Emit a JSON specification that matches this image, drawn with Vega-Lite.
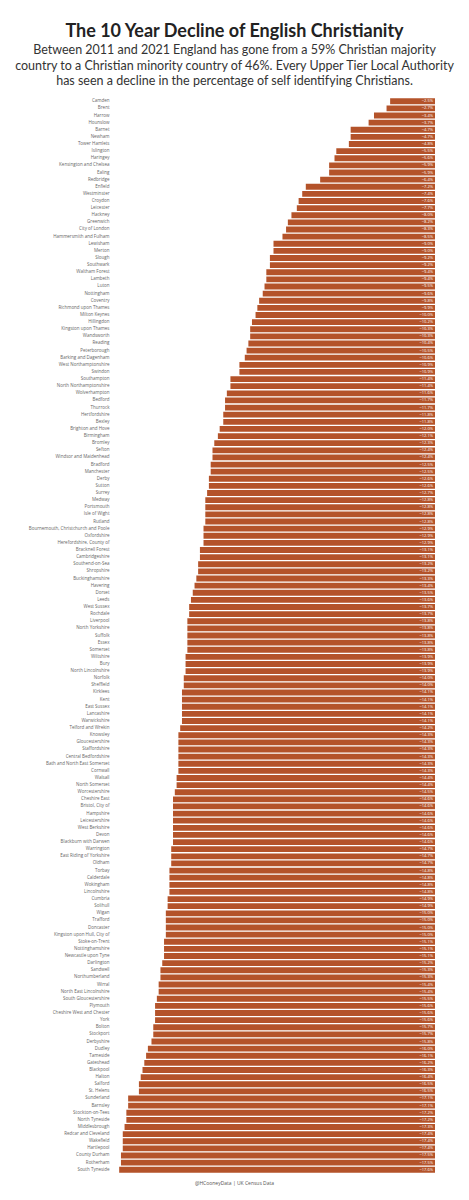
{
  "$schema": "https://vega.github.io/schema/vega-lite/v6.json",
  "autosize": {"type": "none"},
  "padding": {"left": 112, "top": 98, "right": 34, "bottom": 27},
  "width": 323,
  "height": 1075,
  "background": "white",
  "config": {"view": {"stroke": null}, "font": "Open Sans"},
  "title": {
    "text": "The 10 Year Decline of English Christianity",
    "subtitle": [
      "Between 2011 and 2021 England has gone from a 59% Christian majority",
      "country to a Christian minority country of 46%. Every Upper Tier Local Authority",
      "has seen a decline in the percentage of self identifying Christians."
    ],
    "anchor": "middle",
    "frame": "group",
    "dx": -39,
    "font": "Lato",
    "fontSize": 18,
    "fontWeight": "bold",
    "color": "#222222",
    "subtitleFont": "Lato",
    "subtitleFontSize": 12.5,
    "subtitleColor": "#333333",
    "subtitleLineHeight": 15.5,
    "subtitlePadding": 3,
    "offset": 10
  },
  "data": {
    "values": [
      {"area": "Camden", "change": -0.025},
      {"area": "Brent", "change": -0.027},
      {"area": "Harrow", "change": -0.034},
      {"area": "Hounslow", "change": -0.037},
      {"area": "Barnet", "change": -0.047},
      {"area": "Newham", "change": -0.047},
      {"area": "Tower Hamlets", "change": -0.048},
      {"area": "Islington", "change": -0.055},
      {"area": "Haringey", "change": -0.056},
      {"area": "Kensington and Chelsea", "change": -0.059},
      {"area": "Ealing", "change": -0.059},
      {"area": "Redbridge", "change": -0.064},
      {"area": "Enfield", "change": -0.072},
      {"area": "Westminster", "change": -0.074},
      {"area": "Croydon", "change": -0.076},
      {"area": "Leicester", "change": -0.077},
      {"area": "Hackney", "change": -0.080},
      {"area": "Greenwich", "change": -0.082},
      {"area": "City of London", "change": -0.083},
      {"area": "Hammersmith and Fulham", "change": -0.085},
      {"area": "Lewisham", "change": -0.090},
      {"area": "Merton", "change": -0.090},
      {"area": "Slough", "change": -0.092},
      {"area": "Southwark", "change": -0.092},
      {"area": "Waltham Forest", "change": -0.094},
      {"area": "Lambeth", "change": -0.094},
      {"area": "Luton", "change": -0.095},
      {"area": "Nottingham", "change": -0.096},
      {"area": "Coventry", "change": -0.098},
      {"area": "Richmond upon Thames", "change": -0.099},
      {"area": "Milton Keynes", "change": -0.100},
      {"area": "Hillingdon", "change": -0.102},
      {"area": "Kingston upon Thames", "change": -0.103},
      {"area": "Wandsworth", "change": -0.103},
      {"area": "Reading", "change": -0.104},
      {"area": "Peterborough", "change": -0.105},
      {"area": "Barking and Dagenham", "change": -0.106},
      {"area": "West Northamptonshire", "change": -0.109},
      {"area": "Swindon", "change": -0.109},
      {"area": "Southampton", "change": -0.114},
      {"area": "North Northamptonshire", "change": -0.114},
      {"area": "Wolverhampton", "change": -0.116},
      {"area": "Bedford", "change": -0.117},
      {"area": "Thurrock", "change": -0.117},
      {"area": "Hertfordshire", "change": -0.118},
      {"area": "Bexley", "change": -0.118},
      {"area": "Brighton and Hove", "change": -0.120},
      {"area": "Birmingham", "change": -0.121},
      {"area": "Bromley", "change": -0.123},
      {"area": "Sefton", "change": -0.124},
      {"area": "Windsor and Maidenhead", "change": -0.124},
      {"area": "Bradford", "change": -0.125},
      {"area": "Manchester", "change": -0.125},
      {"area": "Derby", "change": -0.126},
      {"area": "Sutton", "change": -0.126},
      {"area": "Surrey", "change": -0.127},
      {"area": "Medway", "change": -0.128},
      {"area": "Portsmouth", "change": -0.128},
      {"area": "Isle of Wight", "change": -0.128},
      {"area": "Rutland", "change": -0.128},
      {"area": "Bournemouth, Christchurch and Poole", "change": -0.129},
      {"area": "Oxfordshire", "change": -0.129},
      {"area": "Herefordshire, County of", "change": -0.129},
      {"area": "Bracknell Forest", "change": -0.131},
      {"area": "Cambridgeshire", "change": -0.131},
      {"area": "Southend-on-Sea", "change": -0.132},
      {"area": "Shropshire", "change": -0.132},
      {"area": "Buckinghamshire", "change": -0.133},
      {"area": "Havering", "change": -0.134},
      {"area": "Dorset", "change": -0.135},
      {"area": "Leeds", "change": -0.136},
      {"area": "West Sussex", "change": -0.137},
      {"area": "Rochdale", "change": -0.137},
      {"area": "Liverpool", "change": -0.138},
      {"area": "North Yorkshire", "change": -0.138},
      {"area": "Suffolk", "change": -0.138},
      {"area": "Essex", "change": -0.138},
      {"area": "Somerset", "change": -0.138},
      {"area": "Wiltshire", "change": -0.139},
      {"area": "Bury", "change": -0.139},
      {"area": "North Lincolnshire", "change": -0.139},
      {"area": "Norfolk", "change": -0.140},
      {"area": "Sheffield", "change": -0.140},
      {"area": "Kirklees", "change": -0.141},
      {"area": "Kent", "change": -0.141},
      {"area": "East Sussex", "change": -0.141},
      {"area": "Lancashire", "change": -0.141},
      {"area": "Warwickshire", "change": -0.141},
      {"area": "Telford and Wrekin", "change": -0.142},
      {"area": "Knowsley", "change": -0.143},
      {"area": "Gloucestershire", "change": -0.143},
      {"area": "Staffordshire", "change": -0.143},
      {"area": "Central Bedfordshire", "change": -0.143},
      {"area": "Bath and North East Somerset", "change": -0.143},
      {"area": "Cornwall", "change": -0.143},
      {"area": "Walsall", "change": -0.144},
      {"area": "North Somerset", "change": -0.144},
      {"area": "Worcestershire", "change": -0.145},
      {"area": "Cheshire East", "change": -0.146},
      {"area": "Bristol, City of", "change": -0.146},
      {"area": "Hampshire", "change": -0.146},
      {"area": "Leicestershire", "change": -0.146},
      {"area": "West Berkshire", "change": -0.146},
      {"area": "Devon", "change": -0.146},
      {"area": "Blackburn with Darwen", "change": -0.146},
      {"area": "Warrington", "change": -0.147},
      {"area": "East Riding of Yorkshire", "change": -0.147},
      {"area": "Oldham", "change": -0.147},
      {"area": "Torbay", "change": -0.148},
      {"area": "Calderdale", "change": -0.148},
      {"area": "Wokingham", "change": -0.148},
      {"area": "Lincolnshire", "change": -0.148},
      {"area": "Cumbria", "change": -0.149},
      {"area": "Solihull", "change": -0.149},
      {"area": "Wigan", "change": -0.150},
      {"area": "Trafford", "change": -0.150},
      {"area": "Doncaster", "change": -0.150},
      {"area": "Kingston upon Hull, City of", "change": -0.150},
      {"area": "Stoke-on-Trent", "change": -0.151},
      {"area": "Nottinghamshire", "change": -0.151},
      {"area": "Newcastle upon Tyne", "change": -0.151},
      {"area": "Darlington", "change": -0.152},
      {"area": "Sandwell", "change": -0.153},
      {"area": "Northumberland", "change": -0.153},
      {"area": "Wirral", "change": -0.154},
      {"area": "North East Lincolnshire", "change": -0.154},
      {"area": "South Gloucestershire", "change": -0.155},
      {"area": "Plymouth", "change": -0.156},
      {"area": "Cheshire West and Chester", "change": -0.156},
      {"area": "York", "change": -0.156},
      {"area": "Bolton", "change": -0.157},
      {"area": "Stockport", "change": -0.157},
      {"area": "Derbyshire", "change": -0.158},
      {"area": "Dudley", "change": -0.160},
      {"area": "Tameside", "change": -0.161},
      {"area": "Gateshead", "change": -0.162},
      {"area": "Blackpool", "change": -0.163},
      {"area": "Halton", "change": -0.164},
      {"area": "Salford", "change": -0.165},
      {"area": "St. Helens", "change": -0.165},
      {"area": "Sunderland", "change": -0.171},
      {"area": "Barnsley", "change": -0.171},
      {"area": "Stockton-on-Tees", "change": -0.172},
      {"area": "North Tyneside", "change": -0.172},
      {"area": "Middlesbrough", "change": -0.173},
      {"area": "Redcar and Cleveland", "change": -0.174},
      {"area": "Wakefield", "change": -0.174},
      {"area": "Hartlepool", "change": -0.174},
      {"area": "County Durham", "change": -0.175},
      {"area": "Rotherham", "change": -0.175},
      {"area": "South Tyneside", "change": -0.176}
    ]
  },
  "encoding": {
    "y": {
      "field": "area",
      "type": "nominal",
      "sort": null,
      "scale": {"paddingInner": 0.18, "paddingOuter": 0.05},
      "axis": {
        "title": null,
        "ticks": false,
        "domain": false,
        "labelFontSize": 4.5,
        "labelColor": "#666666",
        "labelPadding": 3,
        "labelFont": "Open Sans"
      }
    }
  },
  "layer": [
    {
      "mark": {"type": "bar", "color": "#b4532a"},
      "encoding": {
        "x": {
          "field": "change",
          "type": "quantitative",
          "scale": {"domain": [-0.18, 0], "nice": false},
          "axis": {
            "labels": false,
            "ticks": false,
            "domain": false,
            "grid": false,
            "title": "@HCooneyData | UK Census Data",
            "titleFont": "Open Sans",
            "titleFontSize": 5,
            "titleFontWeight": "normal",
            "titleColor": "#555555",
            "titlePadding": 7,
            "titleX": 122,
            "titleAlign": "center"
          }
        }
      }
    },
    {
      "mark": {"type": "text", "align": "right", "dx": -2, "fontSize": 4, "color": "white", "font": "Open Sans"},
      "encoding": {
        "x": {"datum": 0, "type": "quantitative"},
        "text": {"field": "change", "type": "quantitative", "format": ".1%"}
      }
    }
  ]
}
